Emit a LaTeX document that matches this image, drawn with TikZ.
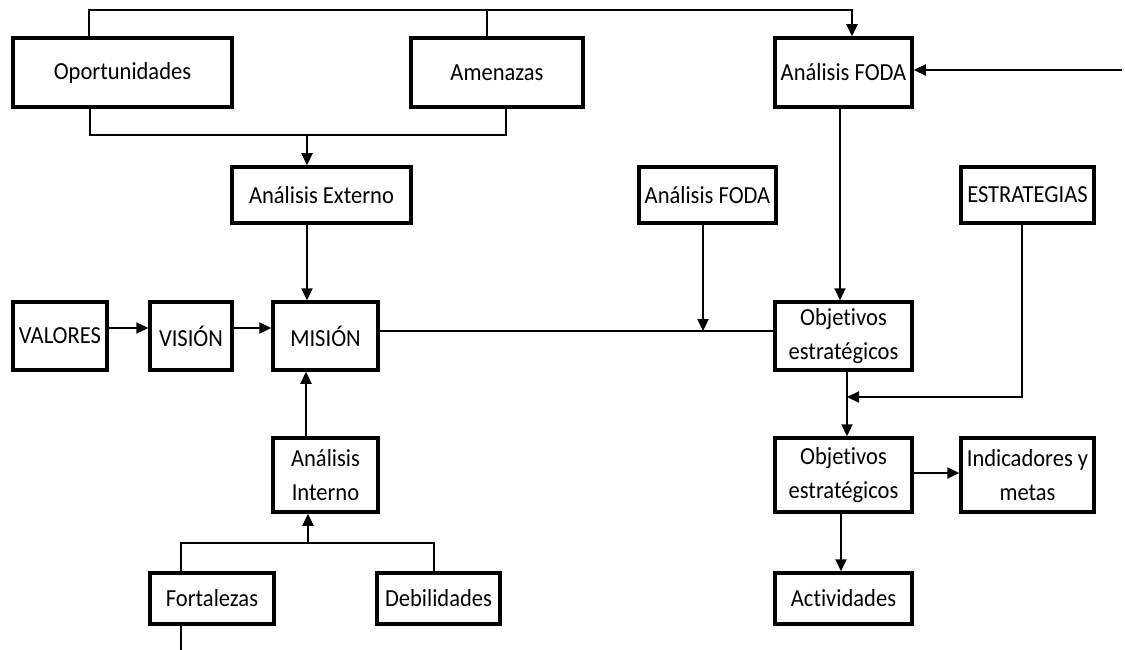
\documentclass[tikz,border=0pt]{standalone}
\usepackage{fontspec}
\setmainfont{Carlito}[RawFeature={-liga;-clig;-dlig}, FakeStretch=0.92]
\usetikzlibrary{arrows.meta}
\tikzset{
  box/.style={draw=black, line width=3.5pt, fill=white, inner sep=0pt, align=center,
    font=\fontsize{24.5}{34}\selectfont},
  conn/.style={draw=black, line width=2.3pt},
  arr/.style={conn, -{Triangle[length=12pt,width=11pt]}},
}
\begin{document}
\begin{tikzpicture}[x=1pt,y=-1pt]
\useasboundingbox (0,0) rectangle (1125,650);
% nodes
\node[box, minimum width=219pt, minimum height=69pt] (Opo) at (122.5,72.5) {Oportunidades};
\node[box, minimum width=172pt, minimum height=69pt] (Ame) at (497,72.5) {Amenazas};
\node[box, minimum width=137pt, minimum height=69pt] (FODA1) at (843.5,72.5) {Análisis FODA};
\node[box, minimum width=179pt, minimum height=56pt] (Ext) at (321.5,195) {Análisis Externo};
\node[box, minimum width=137pt, minimum height=56pt] (FODA2) at (707.5,195) {Análisis FODA};
\node[box, minimum width=133pt, minimum height=56pt] (Estr) at (1027.5,195) {ESTRATEGIAS};
\node[box, minimum width=94pt, minimum height=68pt] (Val) at (60,336) {VALORES};
\node[box, minimum width=82pt, minimum height=68pt] (Vis) at (191,336) {VISIÓN};
\node[box, minimum width=105pt, minimum height=68pt] (Mis) at (325.5,336) {MISIÓN};
\node[box, minimum width=137pt, minimum height=68pt] (Obj1) at (843.5,336) {Objet\kern0pt ivos\\estratégicos};
\node[box, minimum width=105pt, minimum height=74pt] (Int) at (325.5,475) {Análisis\\Interno};
\node[box, minimum width=137pt, minimum height=74pt] (Obj2) at (843.5,475) {Objet\kern0pt ivos\\estratégicos};
\node[box, minimum width=133pt, minimum height=74pt] (Ind) at (1027.5,475) {Indicadores y\\metas};
\node[box, minimum width=124pt, minimum height=51pt] (For) at (212,598.5) {Fortalezas};
\node[box, minimum width=123pt, minimum height=51pt] (Deb) at (438.5,598.5) {Debilidades};
\node[box, minimum width=137pt, minimum height=51pt] (Act) at (843.5,598.5) {Actividades};
% helper coordinates
\coordinate (t1) at (89,10);
\coordinate (t2) at (852,10);
\coordinate (t3) at (487,10);
\coordinate (b1) at (90,135);
\coordinate (b2) at (506,135);
\coordinate (b3) at (307,135);
\coordinate (xa) at (307,0);
\coordinate (ya) at (0,328);
\coordinate (yb) at (0,331);
\coordinate (j1) at (703,331);
\coordinate (xf) at (840,0);
\coordinate (r0) at (1122,70);
\coordinate (e1) at (1022,397);
\coordinate (e2) at (847,397);
\coordinate (yi) at (0,473);
\coordinate (xact) at (841,0);
\coordinate (xi) at (306,0);
\coordinate (f1) at (181,543);
\coordinate (f2) at (434,543);
\coordinate (f3) at (308,543);
\coordinate (f4) at (181,650);
% connectors
\draw[arr] (Opo.north -| t1) -- (t1) -- (t2) -- (FODA1.north -| t2);
\draw[conn] (Ame.north -| t3) -- (t3);
\draw[conn] (Opo.south -| b1) -- (b1) -- (b2) -- (Ame.south -| b2);
\draw[arr] (b3) -- (Ext.north -| b3);
\draw[arr] (Ext.south -| xa) -- (Mis.north -| xa);
\draw[arr] (Val.east |- ya) -- (Vis.west |- ya);
\draw[arr] (Vis.east |- ya) -- (Mis.west |- ya);
\draw[conn] (Mis.east |- yb) -- (Obj1.west |- yb);
\draw[arr] (FODA2.south -| j1) -- (j1);
\draw[arr] (FODA1.south -| xf) -- (Obj1.north -| xf);
\draw[arr] (r0) -- (FODA1.east |- r0);
\draw[arr] (Estr.south -| e1) -- (e1) -- (e2);
\draw[arr] (Obj1.south -| e2) -- (Obj2.north -| e2);
\draw[arr] (Obj2.east |- yi) -- (Ind.west |- yi);
\draw[arr] (Obj2.south -| xact) -- (Act.north -| xact);
\draw[arr] (Int.north -| xi) -- (Mis.south -| xi);
\draw[conn] (For.north -| f1) -- (f1) -- (f2) -- (Deb.north -| f2);
\draw[arr] (f3) -- (Int.south -| f3);
\draw[conn] (For.south -| f4) -- (f4);
\end{tikzpicture}
\end{document}
